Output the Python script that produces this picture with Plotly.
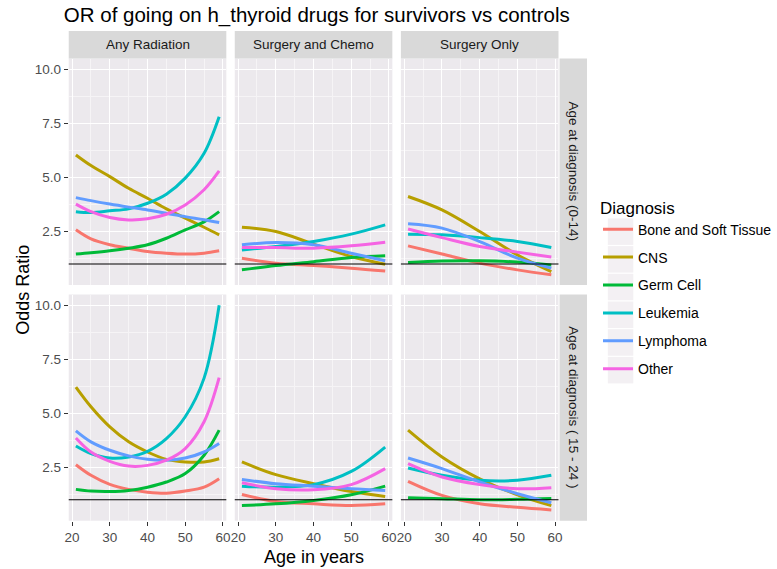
import plotly.graph_objects as go

W, H = 777, 569

# ---------------- data ----------------
diagnoses = ["Bone and Soft Tissue", "CNS", "Germ Cell", "Leukemia", "Lymphoma", "Other"]
colors = ["#F8766D", "#B79F00", "#00BA38", "#00BFC4", "#619CFF", "#F564E3"]
treatments = ["Any Radiation", "Surgery and Chemo", "Surgery Only"]
age_groups = ["Age at diagnosis (0-14)", "Age at diagnosis ( 15 - 24 )"]

ages_rad = [21, 25, 30, 35, 40, 45, 50, 55, 59]
ages_sx = [21, 30, 40, 50, 59]

# Any Radiation, age at diagnosis 0-14 (order = diagnoses)
rad_0_14 = [
    [2.58, 2.16, 1.89, 1.73, 1.58, 1.50, 1.46, 1.50, 1.61],
    [6.04, 5.55, 5.04, 4.50, 4.04, 3.55, 3.12, 2.70, 2.35],
    [1.46, 1.52, 1.61, 1.73, 1.89, 2.19, 2.58, 2.95, 3.42],
    [3.42, 3.38, 3.46, 3.55, 3.81, 4.23, 4.97, 6.12, 7.81],
    [4.07, 3.93, 3.77, 3.63, 3.50, 3.35, 3.19, 3.05, 2.92],
    [3.77, 3.42, 3.15, 3.04, 3.09, 3.30, 3.73, 4.43, 5.30],
]
# Surgery and Chemo, 0-14
chemo_0_14 = [
    [1.27, 1.04, 0.93, 0.81, 0.68],
    [2.70, 2.50, 1.92, 1.35, 0.99],
    [0.73, 0.93, 1.11, 1.30, 1.38],
    [1.65, 1.81, 2.04, 2.38, 2.81],
    [1.89, 1.99, 1.89, 1.50, 1.15],
    [1.76, 1.76, 1.73, 1.84, 2.01],
]
# Surgery Only, 0-14
surg_0_14 = [
    [1.84, 1.46, 1.04, 0.73, 0.50],
    [4.12, 3.50, 2.50, 1.42, 0.65],
    [1.07, 1.14, 1.15, 1.09, 0.95],
    [2.38, 2.35, 2.22, 2.04, 1.76],
    [2.86, 2.66, 2.04, 1.27, 0.81],
    [2.62, 2.22, 1.81, 1.55, 1.32],
]
# Any Radiation, 15-24
rad_15_24 = [
    [2.62, 2.13, 1.71, 1.48, 1.35, 1.30, 1.40, 1.58, 1.97],
    [6.21, 5.30, 4.37, 3.68, 3.21, 2.87, 2.75, 2.75, 2.90],
    [1.48, 1.40, 1.38, 1.43, 1.58, 1.82, 2.21, 3.06, 4.22],
    [3.49, 3.14, 2.93, 2.98, 3.24, 3.83, 4.84, 6.63, 10.0],
    [4.19, 3.68, 3.29, 3.03, 2.87, 2.83, 2.93, 3.21, 3.60],
    [3.86, 3.21, 2.78, 2.56, 2.59, 2.83, 3.37, 4.61, 6.65],
]
# Surgery and Chemo, 15-24
chemo_15_24 = [
    [1.24, 0.92, 0.81, 0.73, 0.81],
    [2.75, 2.16, 1.74, 1.38, 1.15],
    [0.73, 0.81, 0.97, 1.23, 1.63],
    [1.63, 1.58, 1.70, 2.31, 3.44],
    [1.94, 1.74, 1.63, 1.51, 1.43],
    [1.79, 1.51, 1.46, 1.70, 2.44],
]
# Surgery Only, 15-24
surg_15_24 = [
    [1.85, 1.20, 0.81, 0.65, 0.53],
    [4.22, 2.98, 1.97, 1.23, 0.73],
    [1.09, 1.05, 1.00, 1.02, 1.06],
    [2.47, 2.13, 1.90, 1.90, 2.13],
    [2.93, 2.44, 1.82, 1.28, 0.86],
    [2.67, 2.05, 1.70, 1.51, 1.56],
]

x_ticks = [20, 30, 40, 50, 60]
y_ticks = [2.5, 5.0, 7.5, 10.0]
y_ticktext = ["2.5", "5.0", "7.5", "10.0"]
reference_or = 1.0

panels = [
    [(ages_rad, rad_0_14), (ages_sx, chemo_0_14), (ages_sx, surg_0_14)],
    [(ages_rad, rad_15_24), (ages_sx, chemo_15_24), (ages_sx, surg_15_24)],
]

# ---------------- layout geometry (pixels) ----------------
col_px = [(66, 226.7), (235.3, 396.0), (404.7, 565.4)]
row_px = [(58.5, 285.0), (294.5, 520.7)]
strip_top_px = (31, 58.5)
strip_right_px = (566.5, 594.5)


def fx(x):
    return x / W


def fy(y):
    return 1 - y / H


FONT = "Liberation Sans, Arial, sans-serif"
fig = go.Figure()
shapes = []
annotations = []

for r in range(2):
    for c in range(3):
        k = r * 3 + c + 1
        xn = "x" if k == 1 else f"x{k}"
        yn = "y" if k == 1 else f"y{k}"
        ages, series = panels[r][c]
        for i, d in enumerate(diagnoses):
            fig.add_trace(go.Scatter(
                x=ages, y=series[i], mode="lines",
                line=dict(color=colors[i], width=3, shape="spline", smoothing=1.0),
                name=d, legendgroup=d, showlegend=(k == 1),
                xaxis=xn, yaxis=yn,
            ))
        xa = dict(
            domain=[fx(col_px[c][0]), fx(col_px[c][1])],
            range=[19.1, 60.9], tickvals=x_ticks,
            showgrid=True, gridcolor="white", gridwidth=1.1,
            minor=dict(tickvals=[25, 35, 45, 55], showgrid=True,
                       gridcolor="#F6F4F6", gridwidth=0.6),
            zeroline=False, showline=False, anchor=yn,
            tickfont=dict(family=FONT, size=13.5, color="#4D4D4D"),
        )
        if r == 1:
            xa.update(ticks="outside", ticklen=4, tickcolor="#333333", tickwidth=1,
                      showticklabels=True, ticklabelstandoff=0)
        else:
            xa.update(ticks="", showticklabels=False)
        ya = dict(
            domain=[fy(row_px[r][1]), fy(row_px[r][0])],
            range=[0.03, 10.5], tickvals=y_ticks, ticktext=y_ticktext,
            showgrid=True, gridcolor="white", gridwidth=1.1,
            minor=dict(tickvals=[1.25, 3.75, 6.25, 8.75], showgrid=True,
                       gridcolor="#F6F4F6", gridwidth=0.6),
            zeroline=False, showline=False, anchor=xn,
            tickfont=dict(family=FONT, size=13.5, color="#4D4D4D"),
        )
        if c == 0:
            ya.update(ticks="outside", ticklen=4, tickcolor="#333333", tickwidth=1,
                      showticklabels=True)
        else:
            ya.update(ticks="", showticklabels=False)
        fig.layout["xaxis" if k == 1 else f"xaxis{k}"] = xa
        fig.layout["yaxis" if k == 1 else f"yaxis{k}"] = ya
        # reference line at OR = 1
        shapes.append(dict(type="line", xref=f"{xn} domain", yref=yn,
                           x0=0, x1=1, y0=reference_or, y1=reference_or,
                           line=dict(color="black", width=1.1), layer="above"))

# strips on top
for c, t in enumerate(treatments):
    shapes.append(dict(type="rect", xref="paper", yref="paper", layer="below",
                       x0=fx(col_px[c][0]), x1=fx(col_px[c][1]),
                       y0=fy(strip_top_px[1]), y1=fy(strip_top_px[0]),
                       fillcolor="#D9D9D9", line=dict(width=0)))
    annotations.append(dict(text=t, xref="paper", yref="paper", showarrow=False,
                            x=fx((col_px[c][0] + col_px[c][1]) / 2),
                            y=fy((strip_top_px[0] + strip_top_px[1]) / 2),
                            xanchor="center", yanchor="middle",
                            font=dict(family=FONT, size=13.5, color="#1A1A1A")))
# strips on right
for r, g in enumerate(age_groups):
    shapes.append(dict(type="rect", xref="paper", yref="paper", layer="below",
                       x0=fx(strip_right_px[0]), x1=fx(strip_right_px[1]),
                       y0=fy(row_px[r][1]), y1=fy(row_px[r][0]),
                       fillcolor="#D9D9D9", line=dict(width=0)))
    annotations.append(dict(text=g, xref="paper", yref="paper", showarrow=False,
                            x=fx((strip_right_px[0] + strip_right_px[1]) / 2),
                            y=fy((row_px[r][0] + row_px[r][1]) / 2),
                            xanchor="center", yanchor="middle", textangle=90,
                            font=dict(family=FONT, size=13.5, color="#1A1A1A")))
# legend key backgrounds
key_y0 = 218.4
for i in range(len(diagnoses)):
    shapes.append(dict(type="rect", xref="paper", yref="paper", layer="below",
                       x0=fx(615.7), x1=fx(641.7),
                       y0=fy(key_y0 + 27.7 * i + 26.5), y1=fy(key_y0 + 27.7 * i),
                       fillcolor="#F3F0F3", line=dict(width=0)))

# axis titles
annotations.append(dict(text="Odds Ratio", xref="paper", yref="paper", showarrow=False,
                        x=fx(18.5), y=fy((row_px[0][0] + row_px[1][1]) / 2),
                        xanchor="center", yanchor="middle", textangle=-90,
                        font=dict(family=FONT, size=18, color="black")))
annotations.append(dict(text="Age in years", xref="paper", yref="paper", showarrow=False,
                        x=fx((col_px[0][0] + col_px[2][1]) / 2), y=fy(556.5),
                        xanchor="center", yanchor="middle",
                        font=dict(family=FONT, size=18, color="black")))

fig.update_layout(
    width=W, height=H,
    margin=dict(l=0, r=0, t=0, b=0),
    paper_bgcolor="white", plot_bgcolor="#ECE9ED",
    font=dict(family=FONT),
    title=dict(text="OR of going on h_thyroid drugs for survivors vs controls",
               x=fx(61), xanchor="left", xref="paper",
               y=fy(14.5), yanchor="middle", yref="container",
               font=dict(family=FONT, size=20.5, color="black")),
    shapes=shapes, annotations=annotations,
    showlegend=True,
    legend=dict(x=fx(606), xanchor="left", y=fy(191.5), yanchor="top",
                title=dict(text="Diagnosis", font=dict(family=FONT, size=17, color="black")),
                font=dict(family=FONT, size=14, color="black"),
                bgcolor="rgba(0,0,0,0)", tracegroupgap=6.7, itemwidth=30),
)

fig.write_html("out.html")
